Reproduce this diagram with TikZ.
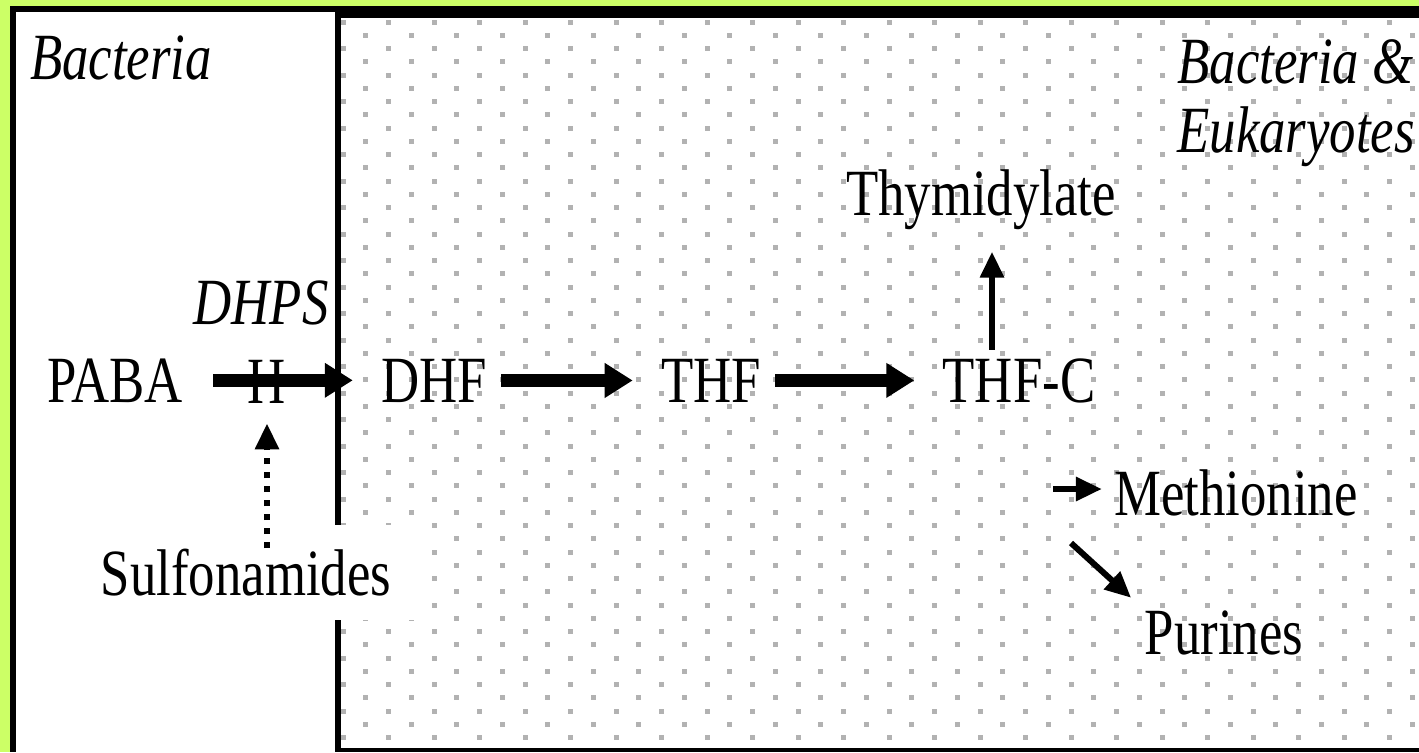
\documentclass[tikz,border=0pt]{standalone}
\usepackage{fontspec}
\setmainfont{Liberation Serif}[FakeStretch=0.8]
\usetikzlibrary{arrows.meta}
\definecolor{frame}{HTML}{CCFF66}
\definecolor{dotgray}{RGB}{178,178,178}
\begin{document}
\begin{tikzpicture}[x=0.5pt,y=-0.5pt,
    lbl/.style={inner sep=0pt,anchor=base,font=\fontsize{33}{36}\selectfont},
    ilbl/.style={lbl,font=\fontsize{33}{36}\selectfont\itshape},
    bigarrow/.style={line width=6.5pt,-{Triangle[length=14pt,width=16.5pt]},shorten <=7pt,shorten >=14pt},
    lightarrow/.style={line width=3pt,-{Triangle[length=13pt,width=11.5pt]}},
    inhibit/.style={lightarrow,dash pattern=on 3pt off 4pt}]
  \useasboundingbox (0,0) rectangle (1419,752);
  \fill[frame] (0,0) rectangle (1419,752);
  \fill[white] (10,6) rectangle (1419,752);
  % dots of the eukaryote side
  \foreach \r in {0,...,54}{
    \pgfmathsetmacro\yy{22+13.25*\r}
    \pgfmathsetmacro\xo{343+22.75*mod(\r,2)}
    \foreach \c in {0,...,23}
      \fill[dotgray] ({\xo+45.5*\c-2.5},{\yy-2.5}) rectangle ++(5,5);
  }
  % frame lines
  \fill (10,6) rectangle (16,752);
  \fill (10,6) rectangle (341,12);
  \fill (335,6) rectangle (1419,18);
  \fill (335,6) rectangle (341,752);
  \fill (335,748) rectangle (1419,752);
  \node[ilbl] (bact) at (121,79) {Bacteria};
  \node[ilbl,anchor=base west] (bacteuk) at (1177,83) {Bacteria \&};
  \node[ilbl,anchor=base west] (euk) at (1177,152) {Eukaryotes};
  \node[lbl] (thym) at (981,215) {Thymidylate};
  \node[ilbl,anchor=base east] (dhps) at (329,324) {DHPS};
  \node[lbl] (paba) at (115,402) {PABA};
  \node[lbl] (blk) at (267,403) {H};
  \node[lbl] (dhf) at (434,402) {DHF};
  \node[lbl] (thf) at (711,402) {THF};
  \node[lbl] (thfc) at (1019,402) {THF-C};
  \node[lbl] (meth) at (1236,515) {Methionine};
  \node[lbl] (pur) at (1224,654) {Purines};
  \node[lbl,fill=white,inner xsep=16pt,inner ysep=12pt] (sulf) at (246,595) {Sulfonamides};
  \coordinate (up) at (992,0);
  \coordinate (mfrom) at (1053,489);
  \coordinate (pfrom) at (1071,543);
  \draw[bigarrow,shorten <=15pt] (paba.east) -- (paba.east -| dhf.west);
  \draw[bigarrow] (dhf.east) -- (dhf.east -| thf.west);
  \draw[bigarrow] (thf.east) -- (thf.east -| thfc.west);
  \draw[lightarrow,shorten <=4pt,shorten >=11pt] (thfc.north -| up) -- (thym.south -| up);
  \draw[lightarrow,shorten >=6pt] (mfrom) -- (mfrom -| meth.west);
  \draw[lightarrow,shorten >=9pt] (pfrom) -- (pur.north west);
  \draw[inhibit,shorten <=-12pt,shorten >=10pt] (sulf.north -| blk.south) -- (blk.south);
\end{tikzpicture}
\end{document}
